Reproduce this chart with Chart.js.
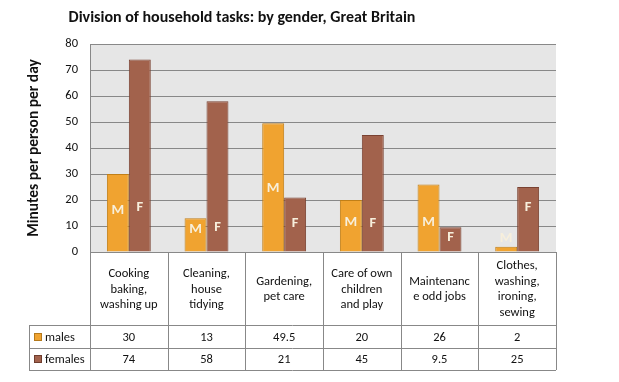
<!DOCTYPE html>
<html>
<head>
<meta charset="utf-8">
<title>Division of household tasks</title>
<script src="https://cdn.jsdelivr.net/npm/chart.js@4"></script>
<style>
  html, body { margin: 0; padding: 0; background: #fff; }
  #wrap { width: 619px; height: 382px; }
</style>
</head>
<body>
<div id="wrap"><canvas id="chart" width="619" height="382"></canvas></div>
<script>
// Data
const categories = [
  ['Cooking', 'baking,', 'washing up'],
  ['Cleaning,', 'house', 'tidying'],
  ['Gardening,', 'pet care'],
  ['Care of own', 'children', 'and play'],
  ['Maintenanc', 'e odd jobs'],
  ['Clothes,', 'washing,', 'ironing,', 'sewing']
];
const males = [30, 13, 49.5, 20, 26, 2];
const females = [74, 58, 21, 45, 9.5, 25];
const seriesNames = ['males', 'females'];
const yTicks = [0, 10, 20, 30, 40, 50, 60, 70, 80];

const FONT = 'Carlito, Lato, "Open Sans", sans-serif';
const MALE_COLOR = '#f0a330';
const FEMALE_COLOR = '#a2624c';
const LINE = '#888888';

// Where the hand placed "M" / "F" callouts inside the bars (in axis units)
const calloutAt = {
  M: [16.2, 8.8, 24.6, 11.5, 11.5, 5.4],
  F: [17.3, 9.6, 11.2, 11.2, 5.8, 17.3]
};

// Plot background
const plotBg = {
  id: 'plotBg',
  beforeDraw(chart) {
    const { ctx, chartArea: a } = chart;
    ctx.save();
    ctx.fillStyle = '#e6e6e6';
    ctx.fillRect(a.left, a.top, a.right - a.left, a.bottom - a.top);
    ctx.restore();
  }
};

// Title, callouts and data table
const extras = {
  id: 'extras',
  afterDraw(chart) {
    const { ctx, chartArea: a } = chart;
    const x = chart.scales.x;
    const y = chart.scales.y;
    ctx.save();

    // title
    ctx.fillStyle = '#111';
    ctx.textAlign = 'center';
    ctx.textBaseline = 'middle';
    let size = 17;
    const title = 'Division of household tasks: by gender, Great Britain';
    ctx.font = 'bold ' + size + 'px ' + FONT;
    while (ctx.measureText(title).width > 350 && size > 10) {
      size -= 0.5;
      ctx.font = 'bold ' + size + 'px ' + FONT;
    }
    ctx.fillText(title, 242, 18);

    // M / F callouts
    ctx.font = 'bold 14.5px ' + FONT;
    ctx.fillStyle = '#f7efdc';
    ['M', 'F'].forEach((letter, di) => {
      const meta = chart.getDatasetMeta(di);
      meta.data.forEach((bar, i) => {
        ctx.fillText(letter, bar.x, y.getPixelForValue(calloutAt[letter][i]));
      });
    });

    // table
    const step = x.getPixelForValue(1) - x.getPixelForValue(0);
    const top = a.bottom;
    const headBottom = top + 73;
    const maleBottom = headBottom + 23;
    const femBottom = maleBottom + 22;
    const legendLeft = 29;
    const right = x.getPixelForValue(categories.length - 1) + step / 2;

    ctx.strokeStyle = LINE;
    ctx.lineWidth = 1;
    ctx.beginPath();
    for (let i = 0; i <= categories.length; i++) {
      const px = Math.round(x.getPixelForValue(i) - step / 2) + 0.5;
      ctx.moveTo(px, top);
      ctx.lineTo(px, femBottom);
    }
    [headBottom, maleBottom, femBottom].forEach(py => {
      ctx.moveTo(legendLeft, py + 0.5);
      ctx.lineTo(right, py + 0.5);
    });
    ctx.moveTo(legendLeft + 0.5, headBottom);
    ctx.lineTo(legendLeft + 0.5, femBottom);
    ctx.stroke();

    ctx.fillStyle = '#111';
    ctx.font = '12.5px ' + FONT;
    categories.forEach((lines, i) => {
      const cx = x.getPixelForValue(i);
      const lh = 15.7;
      const mid = (top + headBottom) / 2 + 1;
      lines.forEach((t, j) => {
        ctx.fillText(t, cx, mid + (j - (lines.length - 1) / 2) * lh);
      });
      ctx.fillText(String(males[i]), cx, (headBottom + maleBottom) / 2 + 1);
      ctx.fillText(String(females[i]), cx, (maleBottom + femBottom) / 2 + 1);
    });

    // legend keys
    const keys = [[MALE_COLOR, '#b57a1c', headBottom, maleBottom], [FEMALE_COLOR, '#6e3d2e', maleBottom, femBottom]];
    keys.forEach(([fill, edge, y0, y1], k) => {
      const cy = (y0 + y1) / 2;
      ctx.fillStyle = fill;
      ctx.fillRect(34, Math.round(cy) - 4, 8, 8);
      ctx.strokeStyle = edge;
      ctx.strokeRect(34.5, Math.round(cy) - 3.5, 7, 7);
      ctx.fillStyle = '#111';
      ctx.textAlign = 'left';
      ctx.fillText(seriesNames[k], 45, cy + 1);
    });

    ctx.restore();
  }
};

new Chart(document.getElementById('chart'), {
  type: 'bar',
  data: {
    labels: categories.map(c => c.join(' ')),
    datasets: [
      {
        label: seriesNames[0],
        data: males,
        backgroundColor: MALE_COLOR,
        borderColor: '#c17f17',
        borderWidth: 1,
        barPercentage: 1,
        categoryPercentage: 0.565
      },
      {
        label: seriesNames[1],
        data: females,
        backgroundColor: FEMALE_COLOR,
        borderColor: '#7a4232',
        borderWidth: 1,
        barPercentage: 1,
        categoryPercentage: 0.565
      }
    ]
  },
  options: {
    responsive: false,
    animation: false,
    layout: { padding: { top: 44, right: 63, bottom: 130, left: 0 } },
    plugins: {
      legend: { display: false },
      tooltip: { enabled: false },
      title: { display: false }
    },
    scales: {
      x: { display: false },
      y: {
        min: 0,
        max: 80,
        afterBuildTicks: s => { s.ticks = yTicks.map(v => ({ value: v })); },
        afterFit: s => { s.width = 90; },
        ticks: { color: '#111', font: { family: FONT, size: 12.5 }, padding: 12 },
        grid: { color: LINE, drawTicks: false },
        border: { color: LINE },
        title: {
          display: true,
          text: 'Minutes per person per day',
          color: '#111',
          font: { family: FONT, size: 15.5, weight: 'bold' },
          padding: { top: 25, bottom: 0 }
        }
      }
    }
  },
  plugins: [plotBg, extras]
});
</script>
</body>
</html>
